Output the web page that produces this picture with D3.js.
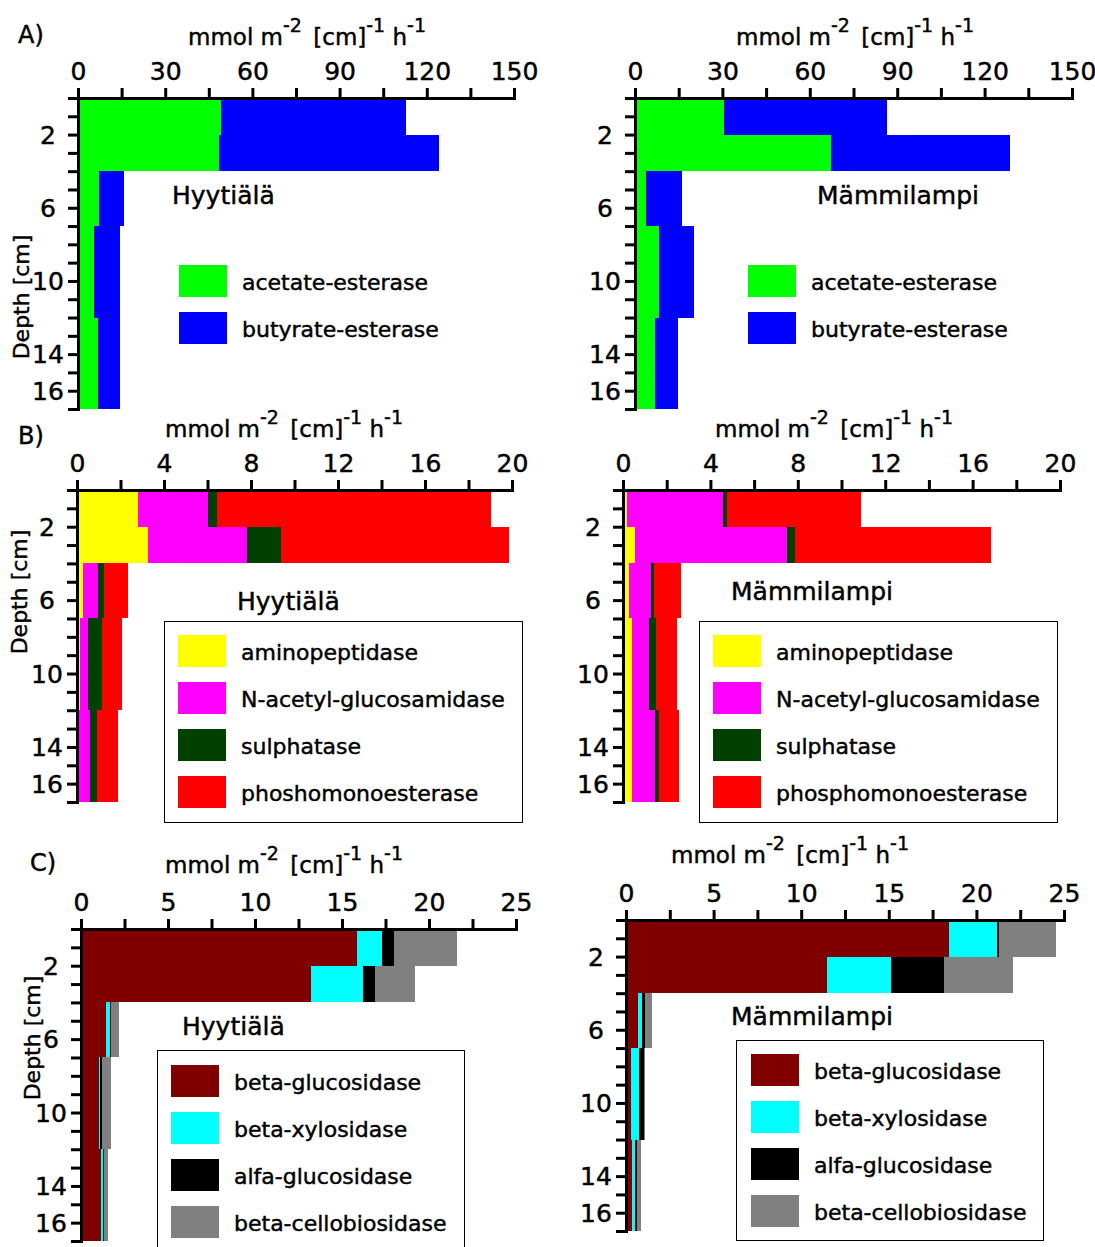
<!DOCTYPE html>
<html>
<head>
<meta charset="utf-8">
<script src="https://cdn.jsdelivr.net/npm/d3@7"></script>
<style>
  body { margin: 0; background: #fff; }
  svg text { font-family: "DejaVu Sans", Verdana, sans-serif; fill: #000; white-space: pre;
             stroke: #000; stroke-width: 0.45px; }
</style>
</head>
<body>
<script>
// depth layers [top, bottom] in cm
const layers = [[0, 2], [2, 4], [4, 7], [7, 12], [12, 17]];
const depthTicks = [0, 1, 2, 3, 4, 5, 6, 7, 8, 9, 10, 11, 12, 13, 14, 15, 16, 17];
const depthLabels = [2, 6, 10, 14, 16];

// A) esterases
const esteraseNames = ["acetate-esterase", "butyrate-esterase"];
const hyyAcetate = [49.1, 48.5, 7.1, 5.5, 7.0];
const hyyButyrate = [63.9, 75.7, 8.6, 9.1, 7.6];
const mamAcetate = [30.7, 67.3, 3.8, 8.3, 6.7];
const mamButyrate = [55.7, 61.5, 12.2, 12.0, 8.2];
const ticksA = [0, 15, 30, 45, 60, 75, 90, 105, 120, 135, 150];
const labelsA = [0, 30, 60, 90, 120, 150];

// B) N, S and P enzymes
const nutrientNamesHyy = ["aminopeptidase", "N-acetyl-glucosamidase", "sulphatase", "phoshomonoesterase"];
const nutrientNamesMam = ["aminopeptidase", "N-acetyl-glucosamidase", "sulphatase", "phosphomonoesterase"];
const hyyAmino = [2.82, 3.27, 0.26, 0.13, 0.06];
const hyyNag = [3.21, 4.55, 0.70, 0.38, 0.52];
const hyySulph = [0.41, 1.57, 0.26, 0.66, 0.36];
const hyyPhos = [12.58, 10.46, 1.14, 0.89, 0.94];
const mamAmino = [0.19, 0.53, 0.28, 0.41, 0.40];
const mamNag = [4.40, 6.97, 0.99, 0.79, 1.07];
const mamSulph = [0.19, 0.37, 0.13, 0.29, 0.18];
const mamPhos = [6.13, 8.98, 1.24, 1.00, 0.91];
const ticksB = [0, 2, 4, 6, 8, 10, 12, 14, 16, 18, 20];
const labelsB = [0, 4, 8, 12, 16, 20];

// C) carbohydrate enzymes
const carbonNames = ["beta-glucosidase", "beta-xylosidase", "alfa-glucosidase", "beta-cellobiosidase"];
const hyyBglu = [15.87, 13.19, 1.42, 1.04, 1.14];
const hyyXyl = [1.43, 3.04, 0.27, 0.08, 0.10];
const hyyAglu = [0.70, 0.69, 0.06, 0.09, 0.11];
const hyyCell = [3.60, 2.27, 0.44, 0.50, 0.23];
const mamBglu = [18.41, 11.46, 0.69, 0.30, 0.32];
const mamXyl = [2.76, 3.66, 0.25, 0.45, 0.22];
const mamAglu = [0.12, 3.03, 0.16, 0.25, 0.06];
const mamCell = [3.23, 3.92, 0.41, 0.10, 0.25];
const ticksC = [0, 2.5, 5, 7.5, 10, 12.5, 15, 17.5, 20, 22.5, 25];
const labelsC = [0, 5, 10, 15, 20, 25];

const esteraseColors = ["#00ff00", "#0000ff"];
const nutrientColors = ["#ffff00", "#ff00ff", "#004000", "#ff0000"];
const carbonColors = ["#800000", "#00ffff", "#000000", "#808080"];

const svg = d3.select("body").append("svg")
  .attr("width", 1095).attr("height", 1247);

const panels = [
  { site: "Hyytiälä", names: esteraseNames, colors: esteraseColors, series: [hyyAcetate, hyyButyrate],
    ticks: ticksA, labels: labelsA, max: 150, xr: [78, 514], yr: [98, 409],
    title: [188, 45], siteAt: [172, 204], depth: [21, 297], letter: ["A)", 18, 43],
    legend: { x: 179, y: 265, box: null } },
  { site: "Mämmilampi", names: esteraseNames, colors: esteraseColors, series: [mamAcetate, mamButyrate],
    ticks: ticksA, labels: labelsA, max: 150, xr: [635, 1072], yr: [98, 409],
    title: [736, 45], siteAt: [817, 204],
    legend: { x: 748, y: 265, box: null } },
  { site: "Hyytiälä", names: nutrientNamesHyy, colors: nutrientColors, series: [hyyAmino, hyyNag, hyySulph, hyyPhos],
    ticks: ticksB, labels: labelsB, max: 20, xr: [77, 512], yr: [490, 802],
    title: [165, 437], siteAt: [237, 610], depth: [19, 592], letter: ["B)", 18, 444],
    legend: { x: 178, y: 635, box: [164, 621, 358, 201] } },
  { site: "Mämmilampi", names: nutrientNamesMam, colors: nutrientColors, series: [mamAmino, mamNag, mamSulph, mamPhos],
    ticks: ticksB, labels: labelsB, max: 20, xr: [623, 1060], yr: [490, 802],
    title: [715, 437], siteAt: [731, 600],
    legend: { x: 713, y: 635, box: [699, 621, 358, 201] } },
  { site: "Hyytiälä", names: carbonNames, colors: carbonColors, series: [hyyBglu, hyyXyl, hyyAglu, hyyCell],
    ticks: ticksC, labels: labelsC, max: 25, xr: [81, 516], yr: [929, 1241],
    title: [165, 873], siteAt: [182, 1035], depth: [32, 1038], letter: ["C)", 30, 871],
    legend: { x: 171, y: 1065, box: [157, 1050, 307, 220] } },
  { site: "Mämmilampi", names: carbonNames, colors: carbonColors, series: [mamBglu, mamXyl, mamAglu, mamCell],
    ticks: ticksC, labels: labelsC, max: 25, xr: [626, 1064], yr: [920, 1231],
    title: [671, 863], siteAt: [731, 1025],
    legend: { x: 751, y: 1054, box: [736, 1040, 307, 200] } }
];

panels.forEach(drawPanel);

function drawPanel(p) {
  const g = svg.append("g");
  const x = d3.scaleLinear().domain([0, p.max]).range(p.xr);
  const y = d3.scaleLinear().domain([0, 17]).range(p.yr);

  // stacked horizontal bars
  const rows = layers.map((l, i) => {
    const r = { top: l[0], bottom: l[1] };
    p.names.forEach((n, j) => r[n] = p.series[j][i]);
    return r;
  });
  const stacked = d3.stack().keys(p.names)(rows);
  stacked.forEach((s, j) => {
    g.append("g").attr("fill", p.colors[j])
      .selectAll("rect").data(s).join("rect")
      .attr("shape-rendering", "crispEdges")
      .attr("x", d => x(d[0]))
      .attr("width", d => x(d[1]) - x(d[0]))
      .attr("y", d => y(d.data.top))
      .attr("height", d => y(d.data.bottom) - y(d.data.top));
  });

  // axes
  const top = g.append("g").attr("transform", `translate(0,${p.yr[0]})`)
    .call(d3.axisTop(x).tickValues(p.ticks).tickSize(10).tickSizeOuter(0).tickPadding(8)
      .tickFormat(d => p.labels.includes(d) ? d : ""));
  const left = g.append("g").attr("transform", `translate(${p.xr[0]},0)`)
    .call(d3.axisLeft(y).tickValues(depthTicks).tickSize(10).tickSizeOuter(0)
      .tickFormat(d => depthLabels.includes(d) ? d : ""));
  [top, left].forEach(a => {
    a.select(".domain").attr("stroke-width", 3).attr("stroke-linecap", "square");
    a.selectAll(".tick line").attr("stroke-width", 3);
    a.selectAll(".tick text").attr("font-size", 25).attr("font-family", "DejaVu Sans").attr("fill", "#000");
  });
  left.selectAll(".tick text").attr("text-anchor", "middle").attr("x", -30).attr("dy", "0.35em");

  // unit title
  const t = g.append("text").attr("x", p.title[0]).attr("y", p.title[1]).attr("font-size", 23);
  t.append("tspan").text("mmol m");
  t.append("tspan").attr("font-size", 19).attr("dy", -13).text("-2");
  t.append("tspan").attr("dy", 13).attr("dx", 4).text(" [cm]");
  t.append("tspan").attr("font-size", 19).attr("dy", -13).text("-1");
  t.append("tspan").attr("dy", 13).text(" h");
  t.append("tspan").attr("font-size", 19).attr("dy", -13).text("-1");

  g.append("text").attr("x", p.siteAt[0]).attr("y", p.siteAt[1])
    .attr("font-size", 25).text(p.site);

  if (p.depth) {
    g.append("text").attr("transform", `translate(${p.depth[0]},${p.depth[1]}) rotate(-90)`)
      .attr("text-anchor", "middle").attr("dy", "0.35em").attr("font-size", 22).text("Depth [cm]");
  }
  if (p.letter) {
    g.append("text").attr("x", p.letter[1]).attr("y", p.letter[2])
      .attr("font-size", 24).text(p.letter[0]);
  }

  // legend
  const L = p.legend;
  if (L.box) {
    g.append("rect").attr("x", L.box[0] + 0.5).attr("y", L.box[1] + 0.5)
      .attr("width", L.box[2]).attr("height", L.box[3])
      .attr("fill", "none").attr("stroke", "#000").attr("stroke-width", 1);
  }
  const items = g.append("g").selectAll("g").data(p.names).join("g")
    .attr("transform", (d, i) => `translate(${L.x},${L.y + i * 47})`);
  items.append("rect").attr("width", 48).attr("height", 32)
    .attr("fill", (d, i) => p.colors[i]);
  items.append("text").attr("x", 63).attr("y", 25).attr("font-size", 22).text(d => d);
}
</script>
</body>
</html>
